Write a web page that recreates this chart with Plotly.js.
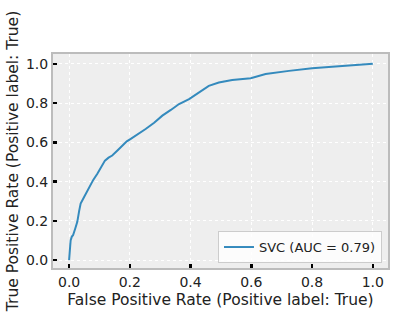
<!DOCTYPE html>
<html><head><meta charset="utf-8">
<script src="https://cdn.plot.ly/plotly-3.0.1.min.js"></script>
<style>html,body{margin:0;padding:0;background:#fff}#chart{width:396px;height:324px}</style>
</head><body><div id="chart"></div>
<script>
const fpr = [0, 0.003, 0.005, 0.009, 0.013, 0.02, 0.027, 0.033, 0.038, 0.049, 0.066, 0.08, 0.093, 0.105, 0.118, 0.13, 0.142, 0.16, 0.175, 0.19, 0.203, 0.225, 0.252, 0.28, 0.307, 0.335, 0.362, 0.395, 0.428, 0.445, 0.46, 0.493, 0.537, 0.598, 0.647, 0.724, 0.80, 0.866, 0.932, 0.97, 1.0];
const tpr = [0, 0.05, 0.10, 0.12, 0.127, 0.16, 0.195, 0.25, 0.288, 0.32, 0.372, 0.41, 0.44, 0.475, 0.507, 0.522, 0.533, 0.56, 0.584, 0.605, 0.618, 0.64, 0.668, 0.70, 0.736, 0.765, 0.795, 0.82, 0.854, 0.872, 0.888, 0.905, 0.917, 0.927, 0.948, 0.964, 0.978, 0.985, 0.993, 0.995, 1.0];
const seriesName = "SVC (AUC = 0.79)";
const tickVals = [0, 0.2, 0.4, 0.6, 0.8, 1.0];
const tickText = ["0.0", "0.2", "0.4", "0.6", "0.8", "1.0"];

const font = "DejaVu Sans, sans-serif";
const axisCommon = {
  tickvals: tickVals, ticktext: tickText,
  ticks: "inside", ticklen: 4, tickwidth: 2.5, tickcolor: "#000",
  showline: true, linecolor: "#bcbcbc", linewidth: 2, mirror: true,
  showgrid: true, gridcolor: "#ffffff", gridwidth: 1, griddash: "dot",
  zeroline: false, tickfont: {family: font, size: 14, color: "#222"}
};
Plotly.newPlot("chart", [{
  x: fpr, y: tpr, type: "scatter", mode: "lines", name: seriesName,
  line: {color: "#348ABD", width: 2, shape: "linear"}
}], {
  width: 396, height: 324,
  margin: {l: 53, r: 8, t: 54, b: 56},
  paper_bgcolor: "#ffffff", plot_bgcolor: "#eeeeee",
  showlegend: true,
  legend: {x: 0.982, y: 0.023, xanchor: "right", yanchor: "bottom",
    bgcolor: "rgba(255,255,255,0.8)", bordercolor: "#cccccc", borderwidth: 1,
    font: {family: font, size: 13, color: "#222"}},
  xaxis: Object.assign({}, axisCommon, {range: [-0.053, 1.05],
    title: {text: "False Positive Rate (Positive label: True)", font: {family: font, size: 15.5, color: "#222"}, standoff: 5}}),
  yaxis: Object.assign({}, axisCommon, {range: [-0.04, 1.05],
    title: {text: "True Positive Rate (Positive label: True)", font: {family: font, size: 15.5, color: "#222"}, standoff: 4}})
}, {displayModeBar: false, staticPlot: true});
</script></body></html>
